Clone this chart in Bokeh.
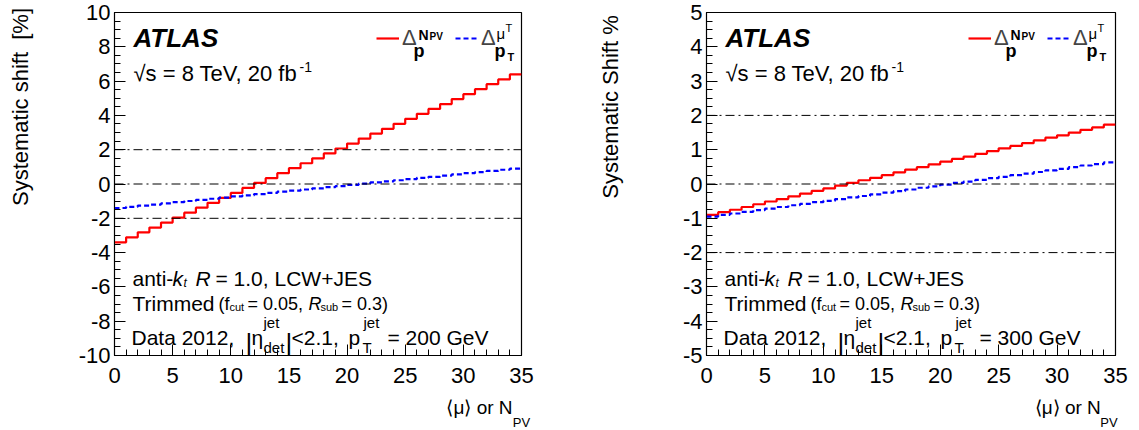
import math
from bokeh.plotting import figure
from bokeh.models import (Range1d, SingleIntervalTicker, FixedTicker, Span, Label, Legend,
                          LegendItem, LinearAxis, PrintfTickFormatter)
from bokeh.layouts import row
from bokeh.embed import file_html
from bokeh.resources import INLINE

# ---------------- data ----------------
bin_edges = list(range(0, 36))          # <mu> or N_PV bins, width 1
npv_200 = [-3.40, -3.11, -2.82, -2.54, -2.25, -1.96, -1.67, -1.38, -1.10, -0.81,
           -0.52, -0.23, 0.06, 0.34, 0.63, 0.92, 1.21, 1.50, 1.78, 2.07,
           2.36, 2.65, 2.94, 3.22, 3.51, 3.80, 4.09, 4.38, 4.66, 4.95,
           5.24, 5.53, 5.82, 6.10, 6.39]
mu_200 = [-1.40, -1.33, -1.26, -1.20, -1.13, -1.06, -0.99, -0.93, -0.86, -0.79,
          -0.72, -0.66, -0.59, -0.52, -0.45, -0.39, -0.32, -0.25, -0.18, -0.12,
          -0.05, 0.02, 0.09, 0.15, 0.22, 0.29, 0.36, 0.42, 0.49, 0.56,
          0.63, 0.69, 0.76, 0.83, 0.90]
npv_300 = [-0.90, -0.82, -0.75, -0.67, -0.59, -0.51, -0.44, -0.36, -0.28, -0.20,
           -0.13, -0.05, 0.03, 0.11, 0.18, 0.26, 0.34, 0.42, 0.49, 0.57,
           0.65, 0.73, 0.80, 0.88, 0.96, 1.04, 1.11, 1.19, 1.27, 1.35,
           1.42, 1.50, 1.58, 1.65, 1.73]
mu_300 = [-0.95, -0.90, -0.86, -0.81, -0.76, -0.72, -0.67, -0.62, -0.58, -0.53,
          -0.49, -0.44, -0.39, -0.35, -0.30, -0.25, -0.21, -0.16, -0.11, -0.07,
          -0.02, 0.03, 0.07, 0.12, 0.17, 0.21, 0.26, 0.30, 0.35, 0.40,
          0.44, 0.49, 0.54, 0.58, 0.63]
ref_levels = [-2, 0, 2]
x_range_vals = (0, 35)
y_range_200 = (-10, 10)
y_range_300 = (-5, 5)

FONT = "Liberation Sans"
FRAME_TOP, FRAME_H = 12, 343
EM, EN = "\u2003", "\u2002"   # non-collapsing spaces used to shift centred axis titles

# text pieces: (text, x relative to frame-left px, page baseline y px, size, bold, italic)
FL = 114
def pieces(pt):
    return [
        ("ATLAS", 133 - FL, 37, 26, True, True),
        ("\u221as = 8 TeV, 20 fb", 133 - FL, 73, 22, False, False),
        ("-1", 299 - FL, 66, 14, False, False),
        ("anti-", 132 - FL, 278, 21, False, False),
        ("k", 172 - FL, 278, 21, False, True),
        ("t", 183 - FL, 282, 12, False, True),
        ("R", 195 - FL, 278, 21, False, True),
        ("= 1.0, LCW+JES", 215 - FL, 278, 21, False, False),
        ("Trimmed", 132 - FL, 303, 21, False, False),
        ("(f", 218 - FL, 303, 18, False, False),
        ("cut", 229 - FL, 306, 11, False, False),
        ("= 0.05,", 247 - FL, 303, 18, False, False),
        ("R", 308 - FL, 303, 18, False, True),
        ("sub", 320 - FL, 306, 11, False, False),
        ("= 0.3)", 341 - FL, 303, 18, False, False),
        ("Data 2012,", 131 - FL, 337, 21, False, False),
        ("|", 245 - FL, 342, 26, False, False),
        ("\u03b7", 251 - FL, 337, 21, False, False),
        ("jet", 263 - FL, 322, 15, False, False),
        ("det", 263 - FL, 347, 15, False, False),
        ("|", 285 - FL, 342, 26, False, False),
        ("<2.1,", 291 - FL, 337, 21, False, False),
        ("p", 348 - FL, 337, 21, False, False),
        ("jet", 363 - FL, 322, 15, False, False),
        ("T", 362 - FL, 347, 15, False, False),
        ("= %s GeV" % pt, 387 - FL, 337, 21, False, False),
        # legend super/subscripts
        ("N", 418 - FL, 34, 14, True, False),
        ("PV", 429 - FL, 36, 10, True, False),
        ("p", 413 - FL, 50, 18, True, False),
        ("\u03bc", 496 - FL, 33, 15, False, False),
        ("T", 505 - FL, 27, 11, False, False),
        ("p", 494 - FL, 50, 18, True, False),
        ("T", 507 - FL, 56, 11, True, False),
    ]


def set_align(ax, val):
    try:
        ax.axis_label_align = val
    except Exception:
        pass


def make_panel(frame_left, frame_w, border_left, border_right, yr, y_int,
               npv, mu, ylabel, ylabel_standoff, xlabel, sublabel, pt):
    p = figure(frame_width=frame_w, frame_height=FRAME_H,
               min_border_left=border_left, min_border_right=border_right,
               min_border_top=FRAME_TOP, min_border_bottom=75,
               x_range=Range1d(*x_range_vals), y_range=Range1d(*yr),
               output_backend="svg", toolbar_location=None,
               background_fill_color="white", border_fill_color="white")
    p.grid.visible = False
    p.outline_line_color = "black"
    p.outline_line_width = 1.2

    def X(px):  # page px -> data
        return x_range_vals[0] + (px - frame_left) / frame_w * (x_range_vals[1] - x_range_vals[0])

    def Y(py):
        return yr[1] - (py - FRAME_TOP) / FRAME_H * (yr[1] - yr[0])

    p.xaxis.ticker = SingleIntervalTicker(interval=5, num_minor_ticks=5)
    p.yaxis.ticker = SingleIntervalTicker(interval=y_int, num_minor_ticks=4)
    p.yaxis.formatter = PrintfTickFormatter(format="%d")
    for ax in (p.xaxis[0], p.yaxis[0]):
        ax.major_tick_in = 11
        ax.major_tick_out = 0
        ax.minor_tick_in = 6
        ax.minor_tick_out = 0
        ax.axis_line_color = "black"
        ax.major_tick_line_color = "black"
        ax.minor_tick_line_color = "black"
        ax.major_label_text_font = FONT
        ax.major_label_text_font_size = "22px"
        ax.major_label_text_color = "black"
        ax.axis_label_text_font = FONT
        ax.axis_label_text_font_style = "normal"
        ax.axis_label_text_color = "black"
    p.xaxis.major_label_standoff = 12
    p.yaxis.major_label_standoff = 4

    # y-axis title (centred, leading padding pushes the words to the top end)
    p.yaxis.axis_label = ylabel
    p.yaxis.axis_label_text_font_size = "22px"
    p.yaxis.axis_label_standoff = ylabel_standoff

    # x-axis title (centred, leading padding pushes it to the right end)
    p.xaxis.axis_label = xlabel
    p.xaxis.axis_label_text_font_size = "19px"
    p.xaxis.axis_label_standoff = 11
    # subscript "PV" on a bare second axis, at the right end
    sub_ax = LinearAxis(ticker=FixedTicker(ticks=[]), axis_line_color=None,
                        major_tick_line_color=None, minor_tick_line_color=None,
                        major_tick_out=0, minor_tick_out=0, major_label_standoff=0,
                        axis_label=sublabel, axis_label_standoff=-6,
                        axis_label_text_font=FONT, axis_label_text_font_size="13px",
                        axis_label_text_font_style="normal", axis_label_text_color="black")
    set_align(sub_ax, "end")
    p.add_layout(sub_ax, "below")

    for lv in ref_levels:
        p.add_layout(Span(location=lv, dimension="width", line_color="black",
                          line_width=1, line_dash="9 4 2 4"))

    xs = bin_edges
    r1 = p.step(xs, npv + [npv[-1]], mode="after", line_color="#ff0000", line_width=2.2)
    r2 = p.step(xs, mu + [mu[-1]], mode="after", line_color="#0000ff", line_width=2.2,
                line_dash="5 3")

    leg = Legend(items=[LegendItem(label="\u0394", renderers=[r1]),
                        LegendItem(label="\u0394", renderers=[r2])],
                 orientation="horizontal", location=(376 - 114, 355 - 51),
                 glyph_width=23, glyph_height=20, label_height=20, label_width=53,
                 label_standoff=3, spacing=0, padding=0, margin=0,
                 border_line_color=None, background_fill_alpha=0,
                 label_text_font=FONT, label_text_font_size="22px")
    p.add_layout(leg)

    for (t, dx, y, s, b, it) in pieces(pt):
        style = "bold italic" if (b and it) else ("bold" if b else ("italic" if it else "normal"))
        p.add_layout(Label(x=X(frame_left + dx), y=Y(y), text=t, text_font=FONT,
                           text_font_size="%dpx" % s, text_font_style=style,
                           text_color="black", text_align="left",
                           text_baseline="alphabetic"))
    return p


p1 = make_panel(114, 407, 114, 64, y_range_200, 2, npv_200, mu_200,
                EM * 7 + "Systematic shift\u00a0 [%]", 43,
                EM * 17 + "\u27e8\u03bc\u27e9 or N", "PV", "200")
p2 = make_panel(706, 409, 121, 24, y_range_300, 1, npv_300, mu_300,
                EM * 7 + "Systematic Shift %", 57,
                EM * 16 + EN + "\u27e8\u03bc\u27e9 or N", "PV" + EM, "300")

layout = row(p1, p2)
open("out.html", "w").write(file_html(layout, INLINE))
